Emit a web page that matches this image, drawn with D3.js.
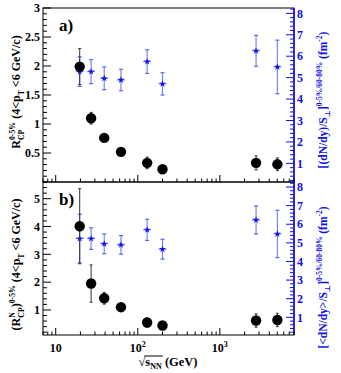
<!DOCTYPE html>
<html lang="en">
<head>
<meta charset="UTF-8">
<title>RCP vs sqrt(sNN)</title>
<script src="https://d3js.org/d3.v7.min.js"></script>
<style>
  body { margin: 0; background: #fff; }
  svg text { font-family: "Liberation Serif", "DejaVu Serif", serif; font-weight: bold; }
</style>
</head>
<body>
<div id="chart"></div>
<script>
// collision energies (GeV)
const energies = [19.6, 27, 39, 62.4, 130, 200, 2760, 5020];

// panel a)
const rcpA    = [1.99, 1.10, 0.76, 0.52, 0.33, 0.22, 0.33, 0.305];
const rcpAErr = [0.31, 0.10, 0.04, 0.04, 0.10, 0.04, 0.12, 0.11];
const dndyA    = [5.28, 5.28, 4.97, 4.89, 5.75, 4.71, 6.25, 5.50];
const dndyAErr = [0.69, 0.56, 0.53, 0.50, 0.55, 0.52, 0.72, 1.25];

// panel b)
const rcpB    = [4.01, 1.95, 1.42, 1.10, 0.55, 0.44, 0.62, 0.64];
const rcpBErr = [1.35, 0.67, 0.21, 0.08, 0.16, 0.05, 0.24, 0.24];
const dndyB    = [5.23, 5.23, 4.95, 4.89, 5.70, 4.66, 6.23, 5.48];
const dndyBErr = [1.31, 0.58, 0.53, 0.50, 0.57, 0.53, 0.75, 1.27];

const leftTicksA = [0.5, 1, 1.5, 2, 2.5, 3];
const leftTicksB = [1, 2, 3, 4, 5];
const rightTicks = [1, 2, 3, 4, 5, 6, 7, 8];
const xTicks = [10, 100, 1000];

const W = 341, H = 373;
const x0 = 43, x1 = 294;
const BLUE = "#1010ee";

const svg = d3.select("#chart").append("svg")
  .attr("width", W).attr("height", H);

const x = d3.scaleLog().domain([7, 8000]).range([x0, x1]);

// rich text helper: segments {t, sub, sup, stack}
function richText(g, segs, size) {
  const txt = g.append("text").style("font-size", size + "px");
  let level = 0, lastLen = 0, pad = 0;
  segs.forEach(s => {
    const sp = txt.append("tspan").text(s.t);
    let target = 0, fs = size;
    if (s.sub) { target = size * 0.3; fs = size * 0.65; }
    if (s.sup) { target = -size * 0.45; fs = size * 0.65; }
    sp.style("font-size", fs + "px").attr("dy", target - level);
    if (s.stack) sp.attr("dx", -lastLen);
    else if (pad > 0) sp.attr("dx", pad);
    level = target;
    const len = sp.node().getComputedTextLength();
    pad = s.stack ? Math.max(0, lastLen - len) : 0;
    lastLen = len;
  });
  return txt;
}

function panel(cfg) {
  const { top, bottom, yL, yR, rcp, rcpErr, dndy, dndyErr, leftTicks, leftMinor, label, leftTitle, rightTitle } = cfg;
  const g = svg.append("g");

  // frame
  g.append("rect").attr("x", x0).attr("y", top)
    .attr("width", x1 - x0).attr("height", bottom - top)
    .attr("fill", "none").attr("stroke", "#000").attr("stroke-width", 1);

  // left axis ticks (inward)
  const lmin = d3.range(Math.ceil(yL.domain()[0] / leftMinor) * leftMinor, yL.domain()[1] + 1e-9, leftMinor);
  lmin.forEach(v => {
    const major = leftTicks.some(t => Math.abs(t - v) < 1e-6);
    g.append("line").attr("x1", x0).attr("x2", x0 + (major ? 8 : 4))
      .attr("y1", yL(v)).attr("y2", yL(v)).attr("stroke", "#000");
  });
  leftTicks.forEach(v => {
    g.append("text").attr("x", 40).attr("y", yL(v)).attr("dy", "0.35em")
      .attr("text-anchor", "end").style("font-size", "12px").text(v);
  });

  // right axis (blue, ticks inward)
  g.append("line").attr("x1", x1).attr("x2", x1).attr("y1", top).attr("y2", bottom)
    .attr("stroke", BLUE).attr("stroke-width", 1.5);
  d3.range(0.2, 8.21, 0.2).forEach(v => {
    if (v < yR.domain()[0]) return;
    const major = Math.abs(v - Math.round(v)) < 1e-6;
    g.append("line").attr("x1", x1).attr("x2", x1 - (major ? 8 : 4))
      .attr("y1", yR(v)).attr("y2", yR(v)).attr("stroke", BLUE);
  });
  rightTicks.forEach(v => {
    g.append("text").attr("x", 297).attr("y", yR(v)).attr("dy", "0.35em")
      .attr("fill", BLUE).style("font-size", "12px").text(v);
  });

  // x ticks (inward from bottom)
  for (let d = 0; d <= 3; d++) {
    for (let m = 1; m <= 9; m++) {
      const v = m * Math.pow(10, d);
      if (v < x.domain()[0] || v > x.domain()[1]) continue;
      g.append("line").attr("x1", x(v)).attr("x2", x(v))
        .attr("y1", bottom).attr("y2", bottom - (m === 1 ? 7 : 3.5)).attr("stroke", "#000");
    }
  }

  // blue series: error bars
  const blue = g.append("g");
  energies.forEach((e, i) => {
    const cx = x(e), ya = yR(dndy[i] + dndyErr[i]), yb = yR(dndy[i] - dndyErr[i]);
    blue.append("line").attr("x1", cx).attr("x2", cx).attr("y1", ya).attr("y2", yb)
      .attr("stroke", "#5565ff").attr("stroke-width", 1.2).attr("opacity", 0.8);
    [ya, yb].forEach(yy => blue.append("line").attr("x1", cx - 2).attr("x2", cx + 2)
      .attr("y1", yy).attr("y2", yy).attr("stroke", "#5565ff").attr("stroke-width", 1.2));
    blue.append("line").attr("x1", cx - 4).attr("x2", cx + 4)
      .attr("y1", yR(dndy[i])).attr("y2", yR(dndy[i])).attr("stroke", "#5565ff").attr("stroke-width", 1);
  });

  // black series: error bars + circles
  const blk = g.append("g");
  energies.forEach((e, i) => {
    const cx = x(e), ya = yL(rcp[i] + rcpErr[i]), yb = yL(rcp[i] - rcpErr[i]);
    blk.append("line").attr("x1", cx).attr("x2", cx).attr("y1", ya).attr("y2", yb)
      .attr("stroke", "#333").attr("stroke-width", 1);
    [ya, yb].forEach(yy => blk.append("line").attr("x1", cx - 1.5).attr("x2", cx + 1.5)
      .attr("y1", yy).attr("y2", yy).attr("stroke", "#333"));
  });
  blk.selectAll("circle").data(energies).join("circle")
    .attr("cx", d => x(d)).attr("cy", (d, i) => yL(rcp[i])).attr("r", 5.2).attr("fill", "#000");

  // blue markers on top
  blue.selectAll("path.star").data(energies).join("path").attr("class", "star")
    .attr("transform", (d, i) => `translate(${x(d)},${yR(dndy[i])})`)
    .attr("d", d3.symbol(d3.symbolStar, 15)).attr("fill", BLUE);

  // panel label
  g.append("text").attr("x", 59).attr("y", top + 23).style("font-size", "17px").text(label);

  // left title
  const lt = g.append("g").attr("transform", `translate(20,${(top + bottom) / 2 + cfg.ltShift}) rotate(-90)`);
  richText(lt, leftTitle, 12).attr("text-anchor", "middle");

  // right title
  const rt = g.append("g").attr("transform", `translate(327,${(top + bottom) / 2 + cfg.rtShift}) rotate(-90)`);
  richText(rt, rightTitle, 11.5).attr("text-anchor", "middle").attr("fill", BLUE);
}

panel({
  top: 8, bottom: 182,
  yL: d3.scaleLinear().domain([0, 3]).range([182, 8]),
  yR: d3.scaleLinear().domain([0.13, 8.25]).range([182, 8]),
  rcp: rcpA, rcpErr: rcpAErr, dndy: dndyA, dndyErr: dndyAErr,
  leftTicks: leftTicksA, leftMinor: 0.1, label: "a)",
  ltShift: -3, rtShift: 5,
  leftTitle: [{ t: "R" }, { t: "CP", sub: true }, { t: "0-5%", sup: true, stack: true },
              { t: " (4<p" }, { t: "T", sub: true }, { t: " <6 GeV/c)" }],
  rightTitle: [{ t: "[(dN/dy)/S" }, { t: "⊥", sub: true }, { t: "]" }, { t: "0-5%/60-80%", sup: true },
               { t: " (fm" }, { t: "-2", sup: true }, { t: ")" }]
});

panel({
  top: 182, bottom: 335,
  yL: d3.scaleLinear().domain([0.1, 5.6]).range([335, 182]),
  yR: d3.scaleLinear().domain([0.05, 8.27]).range([335, 182]),
  rcp: rcpB, rcpErr: rcpBErr, dndy: dndyB, dndyErr: dndyBErr,
  leftTicks: leftTicksB, leftMinor: 0.2, label: "b)",
  ltShift: 6, rtShift: 19,
  leftTitle: [{ t: "(R" }, { t: "CP", sub: true }, { t: "N", sup: true, stack: true }, { t: ")" },
              { t: "0-5%", sup: true }, { t: " (4<p" }, { t: "T", sub: true }, { t: " <6 GeV/c)" }],
  rightTitle: [{ t: "[<dN/dy>/S" }, { t: "⊥", sub: true }, { t: "]" }, { t: "0-5%/60-80%", sup: true },
               { t: " (fm" }, { t: "-2", sup: true }, { t: ")" }]
});

// x tick labels
xTicks.forEach((v, i) => {
  const t = svg.append("text").attr("x", x(v)).attr("y", 352)
    .attr("text-anchor", "middle").style("font-size", "12px");
  t.append("tspan").text("10");
  if (i > 0) t.append("tspan").attr("dy", -5).style("font-size", "8px").text(i + 1);
});

// x title: sqrt(s_NN) (GeV)
const xt = svg.append("text").attr("x", 168).attr("y", 366)
  .attr("text-anchor", "middle").style("font-size", "12.5px");
xt.append("tspan").text("√");
xt.append("tspan").text("s");
xt.append("tspan").attr("dy", 3).style("font-size", "8px").text("NN");
xt.append("tspan").attr("dy", -3).text(" (GeV)");
const bb = xt.node().getBBox();
const sn = xt.node();
const sStart = sn.getStartPositionOfChar(1).x;
const nnEnd = sn.getEndPositionOfChar(3).x;
svg.append("line").attr("x1", sStart - 1).attr("x2", nnEnd + 1)
  .attr("y1", bb.y + 1).attr("y2", bb.y + 1).attr("stroke", "#000").attr("stroke-width", 1);
</script>
</body>
</html>
